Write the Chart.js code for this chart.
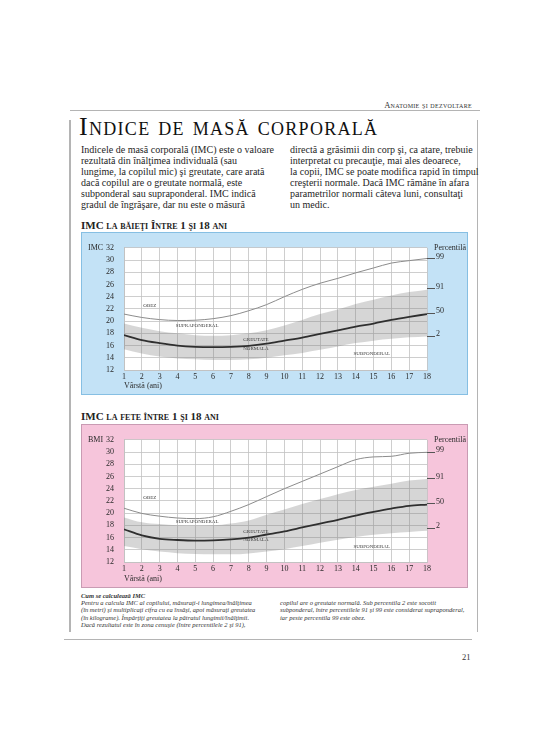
<!DOCTYPE html>
<html>
<head>
<meta charset="utf-8">
<script src="https://cdn.jsdelivr.net/npm/chart.js@4.4.0/dist/chart.umd.min.js"></script>
<style>
    body { margin: 0; width: 550px; height: 750px; background: #fff; position: relative; overflow: hidden;
           font-family: 'Liberation Serif', 'DejaVu Serif', serif; color: #1e1e1e; }
    .abs { position: absolute; white-space: nowrap; }
    .rule { position: absolute; background: #b4b4b4; }
    .header { right: 78px; top: 100px; font-size: 8.5px; font-variant: small-caps; letter-spacing: 0.3px; color: #333; }
    .title { left: 79px; top: 114px; font-size: 26px; line-height: 26px; font-variant: small-caps; letter-spacing: 1.3px; color: #111; }
    .body { font-size: 10px; line-height: 11px; top: 143.5px; }
    .ctitle { left: 81px; font-size: 11px; line-height: 11px; font-weight: bold; font-variant: small-caps; color: #222; }
    .box { position: absolute; left: 81px; width: 387px; box-sizing: border-box; }
    .box canvas { position: absolute; left: 0; top: 0; }
    .note { font-size: 6.5px; line-height: 7.08px; font-style: italic; color: #333; }
    .pagenum { left: 462px; top: 652px; font-size: 8.5px; color: #333; }
</style>
</head>
<body>

<div class="abs header">Anatomie şi dezvoltare</div>
<div class="rule" style="left:70px; top:110px; width:410px; height:1px;"></div>
<div class="rule" style="left:69px; top:120px; width:1.5px; height:512px;"></div>
<div class="rule" style="left:476.5px; top:120px; width:1.5px; height:512px;"></div>
<div class="rule" style="left:64px; top:638.5px; width:408px; height:1px;"></div>

<div class="abs title">Indice de masă corporală</div>

<div class="abs body" style="left:81px;">
Indicele de masă corporală (IMC) este o valoare<br>
rezultată din înălţimea individuală (sau<br>
lungime, la copilul mic) şi greutate, care arată<br>
dacă copilul are o greutate normală, este<br>
subponderal sau supraponderal. IMC indică<br>
gradul de îngrăşare, dar nu este o măsură
</div>
<div class="abs body" style="left:290px;">
directă a grăsimii din corp şi, ca atare, trebuie<br>
interpretat cu precauţie, mai ales deoarece,<br>
la copii, IMC se poate modifica rapid în timpul<br>
creşterii normale. Dacă IMC rămâne în afara<br>
parametrilor normali câteva luni, consultaţi<br>
un medic.
</div>

<div class="abs ctitle" style="top:219.5px;">IMC la băieţi Între 1 şi 18 ani</div>
<div class="box" style="top:232px; height:163px; background:#c3e2f6; border:1px solid #86bfe3;">
    <canvas id="boys-chart" width="387" height="163"></canvas>
</div>

<div class="abs ctitle" style="top:411px;">IMC la fete între 1 şi 18 ani</div>
<div class="box" style="top:424px; height:164px; background:#f6c5db; border:1px solid #c99bb3;">
    <canvas id="girls-chart" width="387" height="164"></canvas>
</div>

<div class="abs note" style="left:81px; top:592.3px;">
<b>Cum se calculează IMC</b><br>
Pentru a calcula IMC al copilului, măsuraţi-i lungimea/înălţimea<br>
(în metri) şi multiplicaţi cifra cu ea însăşi, apoi măsuraţi greutatea<br>
(în kilograme). Împărţiţi greutatea la pătratul lungimii/înălţimii.<br>
Dacă rezultatul este în zona cenuşie (între percentilele 2 şi 91),
</div>
<div class="abs note" style="left:280px; top:599.4px;">
copilul are o greutate normală. Sub percentila 2 este socotit<br>
subponderal, între percentilele 91 şi 99 este considerat supraponderal,<br>
iar peste percentila 99 este obez.
</div>

<div class="abs pagenum">21</div>

<script>
// DATA

const ages = [1, 2, 3, 4, 5, 6, 7, 8, 9, 10, 11, 12, 13, 14, 15, 16, 17, 18];

// boys (IMC per age)
const boysP99 =      [21.15, 20.6, 20.25, 20.1, 20.15, 20.4, 20.9, 21.7, 22.7, 24.0, 25.2, 26.2, 27.0, 27.9, 28.7, 29.5, 29.9, 30.25];
const boysBandTop =  [19.6, 18.9, 18.35, 18.0, 17.7, 17.6, 17.7, 18.0, 18.5, 19.3, 20.2, 21.15, 21.9, 22.8, 23.5, 24.2, 24.75, 25.15];
const boysP50 =      [17.7, 16.9, 16.4, 16.0, 15.8, 15.75, 15.8, 15.95, 16.3, 16.8, 17.3, 17.9, 18.5, 19.1, 19.6, 20.2, 20.7, 21.15];
const boysBandLow =  [15.4, 14.7, 14.2, 13.9, 13.75, 13.65, 13.65, 13.75, 14.0, 14.4, 14.8, 15.3, 15.85, 16.4, 16.8, 17.1, 17.35, 17.5];

// girls (IMC per age)
const girlsP99 =     [20.8, 19.95, 19.5, 19.2, 19.1, 19.4, 20.3, 21.4, 22.7, 24.0, 25.2, 26.4, 27.6, 28.75, 29.2, 29.3, 29.8, 29.95];
const girlsBandTop = [19.3, 18.5, 18.2, 18.0, 17.97, 18.0, 18.3, 18.8, 19.75, 20.6, 21.5, 22.3, 23.1, 23.8, 24.3, 24.8, 25.35, 25.6];
const girlsP50 =     [17.35, 16.35, 15.8, 15.6, 15.5, 15.55, 15.7, 16.0, 16.5, 17.0, 17.65, 18.3, 18.9, 19.6, 20.2, 20.75, 21.2, 21.4];
const girlsBandLow = [14.6, 14.1, 13.7, 13.45, 13.3, 13.25, 13.25, 13.4, 13.7, 14.1, 14.6, 15.15, 15.65, 16.1, 16.45, 16.7, 16.9, 17.1];

// percentile marks on the right axis
const pctLabels = ['99', '91', '50', '2'];
const boysPctAt = [30.2, 25.3, 21.3, 17.55];
const girlsPctAt = [29.95, 25.6, 21.5, 17.5];

const zoneNames = ['OBEZ', 'SUPRAPONDERAL', 'GREUTATE', 'NORMALĂ', 'SUBPONDERAL'];


// STYLE

const GRID = '#c2c2c2';
const INK = '#2a2a2a';
const tickFont = { family: "'Liberation Serif', serif", size: 8 };

// zone label anchors, in (age, IMC) units
const boysZonePos = [[2.45, 22.6], [5.1, 19.25], [8.4, 16.95], [8.4, 15.55], [14.9, 14.65]];
const girlsZonePos = [[2.45, 22.5], [5.1, 18.55], [8.4, 17.0], [8.4, 15.7], [14.9, 14.45]];


// PLUGIN: white plot area, zone names, corner titles

const decor = {
    id: 'decor',
    beforeDraw(chart) {
        const { ctx, chartArea: a } = chart;
        ctx.save();
        ctx.fillStyle = '#ffffff';
        ctx.fillRect(a.left, a.top, a.right - a.left, a.bottom - a.top);
        ctx.restore();
    },
    afterDatasetsDraw(chart, args, opts) {
        const { ctx, scales } = chart;
        ctx.save();
        ctx.font = "5px 'Liberation Serif', serif";
        ctx.fillStyle = '#3a3a3a';
        ctx.textAlign = 'center';
        ctx.textBaseline = 'middle';
        zoneNames.forEach((name, i) => {
            const [age, bmi] = opts.zones[i];
            ctx.fillText(name, scales.x.getPixelForValue(age), scales.y.getPixelForValue(bmi));
        });
        ctx.restore();
    },
    afterDraw(chart, args, opts) {
        const { ctx, chartArea: a } = chart;
        ctx.save();
        ctx.font = "8px 'Liberation Serif', serif";
        ctx.fillStyle = INK;
        ctx.textBaseline = 'middle';
        ctx.textAlign = 'left';
        ctx.fillText(opts.yTitle, 6, a.top);
        ctx.fillText('Percentilă', a.right + 7, a.top);
        ctx.restore();
    }
};


// CHARTS

const series = (vals) => ages.map((a, i) => ({ x: a, y: vals[i] }));

const makeChart = (id, d) => {
    const ctx = document.getElementById(id).getContext('2d');
    return new Chart(ctx, {
        type: 'line',
        data: {
            datasets: [
                { data: series(d.low), borderWidth: 0, pointRadius: 0, fill: false },
                { data: series(d.top), borderWidth: 0, pointRadius: 0, fill: '-1', backgroundColor: 'rgba(120,120,120,0.30)' },
                { data: series(d.p99), borderColor: '#8c8c8c', borderWidth: 1, pointRadius: 0, fill: false },
                { data: series(d.p50), borderColor: '#111111', borderWidth: 1.8, pointRadius: 0, fill: false }
            ]
        },
        options: {
            responsive: false,
            animation: false,
            devicePixelRatio: 1,
            cubicInterpolationMode: 'monotone',
            layout: { padding: { top: d.padTop, left: 0, right: 0, bottom: 0 } },
            plugins: {
                legend: { display: false },
                tooltip: { enabled: false },
                decor: { yTitle: d.yTitle, zones: d.zones }
            },
            scales: {
                x: {
                    type: 'linear', min: 1, max: 18,
                    ticks: { stepSize: 1, padding: 2, font: tickFont, color: INK, maxRotation: 0, autoSkip: false },
                    grid: { color: GRID, lineWidth: 0.8, drawTicks: false },
                    border: { color: GRID },
                    title: { display: true, text: 'Vârstă (ani)', align: 'start', font: tickFont, color: INK, padding: { top: 0, bottom: 5 } },
                    afterFit: (s) => { s.height = d.xHeight; }
                },
                y: {
                    min: 12, max: 32,
                    ticks: { stepSize: 2, padding: 10, font: tickFont, color: INK, autoSkip: false },
                    grid: { color: GRID, lineWidth: 0.8, drawTicks: false },
                    border: { color: GRID },
                    afterFit: (s) => { s.width = 42; }
                },
                y2: {
                    position: 'right', min: 12, max: 32,
                    afterBuildTicks: (s) => { s.ticks = d.pct.map(v => ({ value: v })); },
                    ticks: { callback: (v, i) => pctLabels[i], padding: 1, font: tickFont, color: INK, labelOffset: -2, autoSkip: false },
                    grid: { drawOnChartArea: false, drawTicks: true, tickLength: 8, color: '#555' },
                    border: { display: false },
                    afterFit: (s) => { s.width = 42; }
                }
            }
        },
        plugins: [decor]
    });
};

makeChart('boys-chart', {
    low: boysBandLow, top: boysBandTop, p99: boysP99, p50: boysP50,
    pct: boysPctAt, zones: boysZonePos, yTitle: 'IMC', padTop: 11, xHeight: 26
});

makeChart('girls-chart', {
    low: girlsBandLow, top: girlsBandTop, p99: girlsP99, p50: girlsP50,
    pct: girlsPctAt, zones: girlsZonePos, yTitle: 'BMI', padTop: 10, xHeight: 27
});
</script>
</body>
</html>
